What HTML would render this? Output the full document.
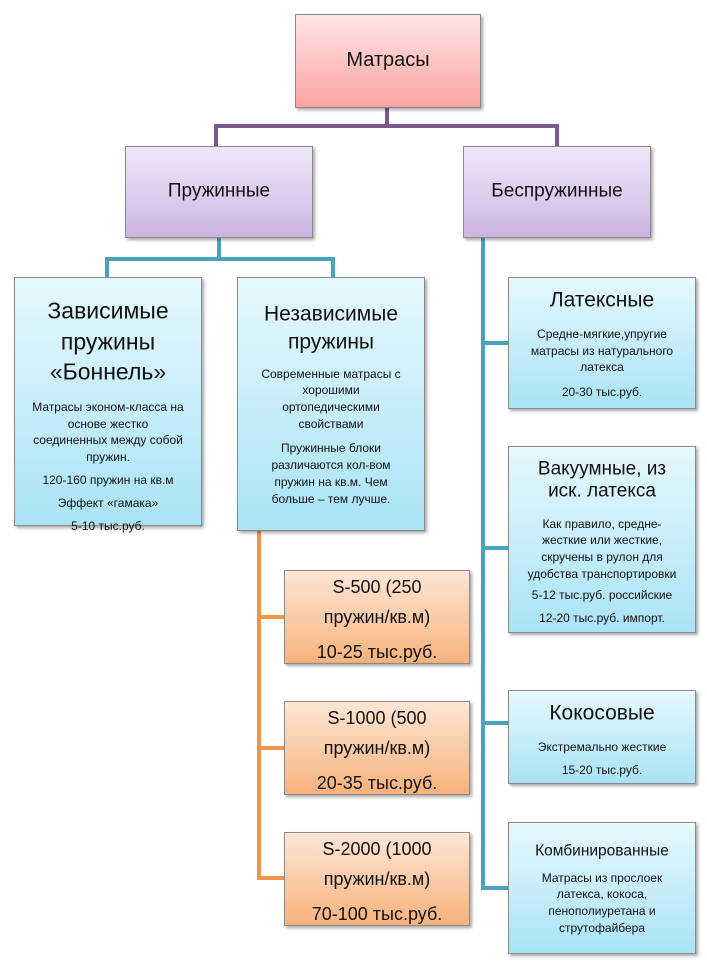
<!DOCTYPE html>
<html><head><meta charset="utf-8"><style>
body{margin:0;width:707px;height:962px;background:#fff;position:relative;overflow:hidden;font-family:"Liberation Sans","DejaVu Sans",sans-serif;color:#111}
.b{position:absolute;border:1px solid #8a8a8a;box-shadow:2px 2px 3px rgba(0,0,0,.35);box-sizing:border-box}
.p{background:linear-gradient(#ffe4e4,#fba3a3)}
.v{background:linear-gradient(#efe8f8,#cbb5e3)}
.c{background:linear-gradient(#e6f8fd,#a9e3f6)}
.o{background:linear-gradient(#fde6d6,#f7b27c)}
.t{position:absolute;white-space:nowrap;text-align:center;transform:translate(-50%,-50%);line-height:1}
.s{font-size:12px}
.l{position:absolute}
</style></head><body>
<div class="l" style="left:385px;top:107px;width:4px;height:21px;background:#7a5a8e"></div>
<div class="l" style="left:214px;top:124px;width:345px;height:4px;background:#7a5a8e"></div>
<div class="l" style="left:214px;top:124px;width:4px;height:23px;background:#7a5a8e"></div>
<div class="l" style="left:555px;top:124px;width:4px;height:23px;background:#7a5a8e"></div>

<div class="l" style="left:217px;top:238px;width:4px;height:23px;background:#4aa3bd"></div>
<div class="l" style="left:105px;top:257px;width:230px;height:4px;background:#4aa3bd"></div>
<div class="l" style="left:105px;top:257px;width:4px;height:21px;background:#4aa3bd"></div>
<div class="l" style="left:331px;top:257px;width:4px;height:21px;background:#4aa3bd"></div>

<div class="l" style="left:481px;top:238px;width:4px;height:652px;background:#4aa3bd"></div>
<div class="l" style="left:481px;top:341px;width:28px;height:4px;background:#4aa3bd"></div>
<div class="l" style="left:481px;top:546px;width:28px;height:4px;background:#4aa3bd"></div>
<div class="l" style="left:481px;top:721px;width:28px;height:4px;background:#4aa3bd"></div>
<div class="l" style="left:481px;top:886px;width:28px;height:4px;background:#4aa3bd"></div>

<div class="l" style="left:257px;top:530px;width:4px;height:350px;background:#f0954a"></div>
<div class="l" style="left:257px;top:615px;width:28px;height:4px;background:#f0954a"></div>
<div class="l" style="left:257px;top:746px;width:28px;height:4px;background:#f0954a"></div>
<div class="l" style="left:257px;top:876px;width:28px;height:4px;background:#f0954a"></div>

<div class="b p" style="left:295px;top:14px;width:186px;height:94px"></div>
<div class="t" style="left:388px;top:60px;font-size:20px">Матрасы</div>

<div class="b v" style="left:125px;top:146px;width:188px;height:92px"></div>
<div class="t" style="left:219px;top:191px;font-size:19px">Пружинные</div>
<div class="b v" style="left:463px;top:146px;width:188px;height:92px"></div>
<div class="t" style="left:557px;top:191px;font-size:19px">Беспружинные</div>

<div class="b c" style="left:14px;top:277px;width:188px;height:249px"></div>
<div class="t" style="left:108px;top:311px;font-size:23px">Зависимые</div>
<div class="t" style="left:108px;top:342px;font-size:23px">пружины</div>
<div class="t" style="left:108px;top:372px;font-size:23px">«Боннель»</div>
<div class="t s" style="left:108px;top:407px">Матрасы эконом-класса на</div>
<div class="t s" style="left:108px;top:424px">основе жестко</div>
<div class="t s" style="left:108px;top:440px">соединенных между собой</div>
<div class="t s" style="left:108px;top:457px">пружин.</div>
<div class="t s" style="left:108px;top:480px">120-160 пружин на кв.м</div>
<div class="t s" style="left:108px;top:503px">Эффект «гамака»</div>
<div class="t s" style="left:108px;top:526px">5-10 тыс.руб.</div>

<div class="b c" style="left:237px;top:277px;width:188px;height:254px"></div>
<div class="t" style="left:331px;top:314px;font-size:21px">Независимые</div>
<div class="t" style="left:331px;top:342px;font-size:21px">пружины</div>
<div class="t s" style="left:331px;top:374px">Современные матрасы с</div>
<div class="t s" style="left:331px;top:390px">хорошими</div>
<div class="t s" style="left:331px;top:407px">ортопедическими</div>
<div class="t s" style="left:331px;top:424px">свойствами</div>
<div class="t s" style="left:331px;top:448px">Пружинные блоки</div>
<div class="t s" style="left:331px;top:465px">различаются кол-вом</div>
<div class="t s" style="left:331px;top:482px">пружин на кв.м. Чем</div>
<div class="t s" style="left:331px;top:499px">больше – тем лучше.</div>

<div class="b o" style="left:284px;top:570px;width:186px;height:94px"></div>
<div class="t" style="left:377px;top:587px;font-size:18px">S-500 (250</div>
<div class="t" style="left:377px;top:617px;font-size:18px">пружин/кв.м)</div>
<div class="t" style="left:377px;top:652px;font-size:18px">10-25 тыс.руб.</div>
<div class="b o" style="left:284px;top:701px;width:186px;height:94px"></div>
<div class="t" style="left:377px;top:718px;font-size:18px">S-1000 (500</div>
<div class="t" style="left:377px;top:748px;font-size:18px">пружин/кв.м)</div>
<div class="t" style="left:377px;top:783px;font-size:18px">20-35 тыс.руб.</div>
<div class="b o" style="left:284px;top:832px;width:186px;height:94px"></div>
<div class="t" style="left:377px;top:849px;font-size:18px">S-2000 (1000</div>
<div class="t" style="left:377px;top:879px;font-size:18px">пружин/кв.м)</div>
<div class="t" style="left:377px;top:914px;font-size:18px">70-100 тыс.руб.</div>

<div class="b c" style="left:508px;top:277px;width:188px;height:132px"></div>
<div class="t" style="left:602px;top:300px;font-size:21px">Латексные</div>
<div class="t s" style="left:602px;top:334px">Средне-мягкие,упругие</div>
<div class="t s" style="left:602px;top:351px">матрасы из натурального</div>
<div class="t s" style="left:602px;top:367px">латекса</div>
<div class="t s" style="left:602px;top:392px">20-30 тыс.руб.</div>

<div class="b c" style="left:508px;top:446px;width:188px;height:187px"></div>
<div class="t" style="left:602px;top:469px;font-size:19px">Вакуумные, из</div>
<div class="t" style="left:602px;top:491px;font-size:19px">иск. латекса</div>
<div class="t s" style="left:602px;top:524px">Как правило, средне-</div>
<div class="t s" style="left:602px;top:540px">жесткие или жесткие,</div>
<div class="t s" style="left:602px;top:557px">скручены в рулон для</div>
<div class="t s" style="left:602px;top:574px">удобства транспортировки</div>
<div class="t s" style="left:602px;top:595px">5-12 тыс.руб. российские</div>
<div class="t s" style="left:602px;top:618px">12-20 тыс.руб. импорт.</div>

<div class="b c" style="left:508px;top:690px;width:188px;height:94px"></div>
<div class="t" style="left:602px;top:713px;font-size:21px">Кокосовые</div>
<div class="t s" style="left:602px;top:747px">Экстремально жесткие</div>
<div class="t s" style="left:602px;top:770px">15-20 тыс.руб.</div>

<div class="b c" style="left:508px;top:822px;width:188px;height:132px"></div>
<div class="t" style="left:602px;top:851px;font-size:15.5px">Комбинированные</div>
<div class="t s" style="left:602px;top:878px">Матрасы из прослоек</div>
<div class="t s" style="left:602px;top:894px">латекса, кокоса,</div>
<div class="t s" style="left:602px;top:911px">пенополиуретана и</div>
<div class="t s" style="left:602px;top:928px">струтофайбера</div>
</body></html>
